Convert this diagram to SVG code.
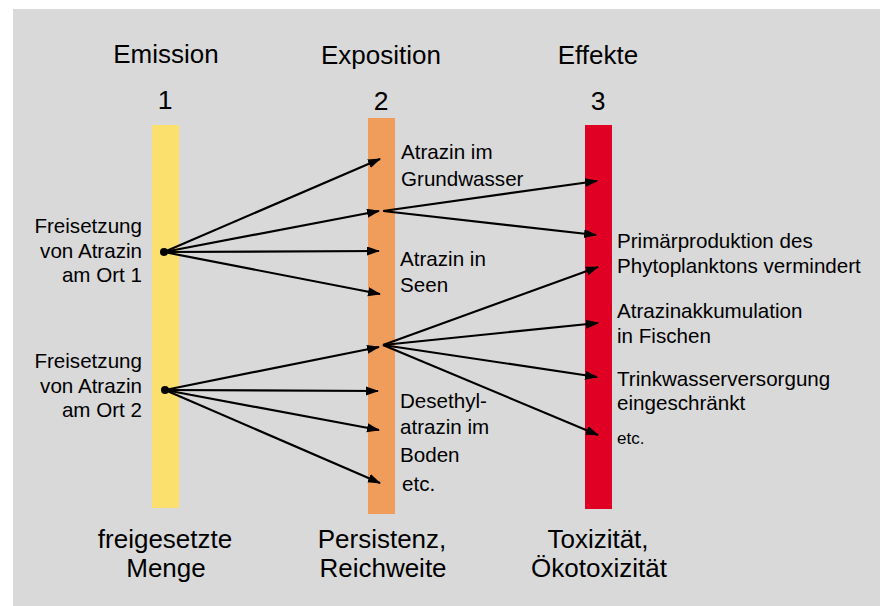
<svg xmlns="http://www.w3.org/2000/svg" width="880" height="606" viewBox="0 0 880 606">
<style>
text{font-family:"Liberation Sans",Arial,Helvetica,sans-serif;fill:#000}
.h{font-size:26px;text-anchor:middle}
.n{font-size:26.5px;text-anchor:middle}
.b{font-size:26px;text-anchor:middle}
.t{font-size:20.6px}
.r{font-size:20.6px;text-anchor:end}
.s{font-size:17px}
.c line{stroke:#000;stroke-width:2.2;marker-end:url(#ah)}
</style>
<defs>
<marker id="ah" markerUnits="userSpaceOnUse" markerWidth="14" markerHeight="10" refX="12" refY="4.5" orient="auto">
<path d="M0,0 L13,4.5 L0,9 z" fill="#000"/>
</marker>
</defs>
<rect x="13" y="9" width="867" height="597" fill="#d9d9d9"/>
<g id="col-emission">
<rect x="152" y="125" width="27" height="383" fill="#fbe06e"/>
<text class="h" x="166" y="63">Emission</text>
<text class="n" x="165" y="109">1</text>
<text class="b" x="165" y="548">freigesetzte</text>
<text class="b" x="166" y="577">Menge</text>
</g>
<g id="col-exposition">
<rect x="368" y="118" width="27" height="396" fill="#f09c5a"/>
<text class="h" x="381" y="64">Exposition</text>
<text class="n" x="381" y="110">2</text>
<text class="b" x="382" y="548">Persistenz,</text>
<text class="b" x="383" y="577">Reichweite</text>
</g>
<g id="col-effekte">
<rect x="585" y="125" width="27" height="384" fill="#e00024"/>
<text class="h" x="598" y="64">Effekte</text>
<text class="n" x="598" y="110">3</text>
<text class="b" x="598" y="548">Toxizität,</text>
<text class="b" x="599" y="577">Ökotoxizität</text>
</g>
<g id="src-ort1">
<circle cx="164" cy="252" r="4" fill="#000"/>
<text class="r" x="142" y="233">Freisetzung</text>
<text class="r" x="142" y="258">von Atrazin</text>
<text class="r" x="142" y="282">am Ort 1</text>
</g>
<g id="src-ort2">
<circle cx="165" cy="390" r="4" fill="#000"/>
<text class="r" x="142" y="368">Freisetzung</text>
<text class="r" x="142" y="393">von Atrazin</text>
<text class="r" x="142" y="417">am Ort 2</text>
</g>
<g id="exp-grundwasser">
<text class="t" x="401" y="159">Atrazin im</text>
<text class="t" x="401" y="186">Grundwasser</text>
</g>
<g id="exp-seen">
<text class="t" x="400" y="266">Atrazin in</text>
<text class="t" x="400" y="292">Seen</text>
</g>
<g id="exp-boden">
<text class="t" x="400" y="408">Desethyl-</text>
<text class="t" x="400" y="434">atrazin im</text>
<text class="t" x="400" y="462">Boden</text>
<text class="t" x="402" y="491">etc.</text>
</g>
<g id="eff-phyto">
<text class="t" x="617" y="248">Primärproduktion des</text>
<text class="t" x="617" y="273">Phytoplanktons vermindert</text>
</g>
<g id="eff-fische">
<text class="t" x="617" y="318">Atrazinakkumulation</text>
<text class="t" x="617" y="343">in Fischen</text>
</g>
<g id="eff-trinkwasser">
<text class="t" x="617" y="386">Trinkwasserversorgung</text>
<text class="t" x="617" y="410">eingeschränkt</text>
</g>
<g id="eff-etc">
<text class="s" x="617" y="444">etc.</text>
</g>
<g id="connectors" class="c">
<line x1="164" y1="252" x2="380" y2="159"/>
<line x1="164" y1="252" x2="379" y2="211"/>
<line x1="164" y1="252" x2="379" y2="251"/>
<line x1="164" y1="252" x2="380" y2="294"/>
<line x1="165" y1="390" x2="379" y2="347"/>
<line x1="165" y1="390" x2="378" y2="391"/>
<line x1="165" y1="390" x2="379" y2="430"/>
<line x1="165" y1="390" x2="380" y2="483"/>
<line x1="383" y1="211" x2="597" y2="181"/>
<line x1="383" y1="211" x2="596" y2="235"/>
<line x1="383" y1="345" x2="598" y2="267"/>
<line x1="383" y1="345" x2="598" y2="323"/>
<line x1="383" y1="345" x2="597" y2="377"/>
<line x1="383" y1="345" x2="598" y2="435"/>
</g>
</svg>
